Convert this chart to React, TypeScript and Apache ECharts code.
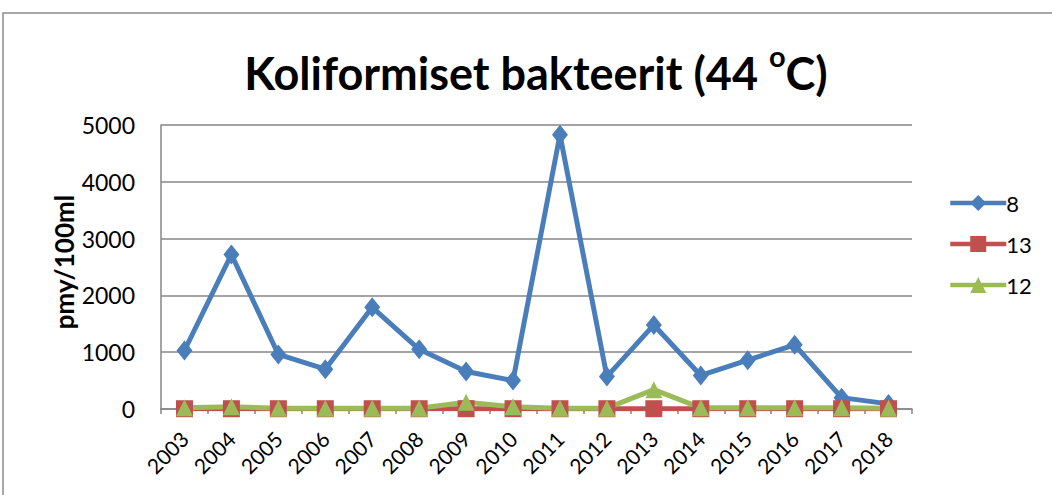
import React, { useEffect, useRef } from "react";
import * as echarts from "echarts";

const years = ["2003","2004","2005","2006","2007","2008","2009","2010","2011","2012","2013","2014","2015","2016","2017","2018"];
const series8 = [1030, 2720, 960, 700, 1790, 1050, 660, 500, 4830, 570, 1480, 590, 860, 1130, 200, 90];
const series13 = [5, 5, 5, 5, 5, 5, 5, 5, 5, 5, 5, 5, 5, 5, 5, 5];
const series12 = [20, 40, 15, 15, 15, 15, 120, 40, 15, 15, 340, 20, 20, 20, 20, 15];
const yTicks = [0, 1000, 2000, 3000, 4000, 5000];

const FONT = "Lato, 'Open Sans', sans-serif";

export default function App() {
  const ref = useRef<HTMLDivElement>(null);
  useEffect(() => {
    document.body.style.margin = "0";
    const chart = echarts.init(ref.current!, undefined, { renderer: "svg" });
    chart.setOption({
      animation: false,
      textStyle: { fontFamily: FONT },
      grid: { left: 161, right: 140, top: 125, bottom: 86 },
      graphic: [
        {
          type: "rect",
          shape: { x: 3, y: 13, width: 1200, height: 700 },
          style: { fill: "none", stroke: "#8a8a8a", lineWidth: 1.5 },
          silent: true,
        },
        {
          type: "text",
          x: 536,
          y: 68,
          style: {
            text: "{a|Koliformiset bakteerit (44 }{s|o}{a|C)}",
            align: "center",
            verticalAlign: "middle",
            rich: {
              a: { fontSize: 45, fontWeight: "bold", fontFamily: FONT, fill: "#000", lineHeight: 54, verticalAlign: "bottom" },
              s: { fontSize: 29, fontWeight: "bold", fontFamily: FONT, fill: "#000", lineHeight: 54, verticalAlign: "top" },
            },
          },
        },
        {
          type: "text",
          x: 64,
          y: 262,
          rotation: Math.PI / 2,
          style: {
            text: "pmy/100ml",
            align: "center",
            verticalAlign: "middle",
            fontSize: 26,
            fontWeight: "bold",
            fontFamily: FONT,
            fill: "#000",
          },
        },
      ],
      legend: {
        orient: "vertical",
        left: 943,
        top: 187,
        itemWidth: 56,
        itemHeight: 20,
        itemGap: 19,
        lineStyle: { width: 4.5 },
        textStyle: { fontSize: 22, color: "#000", fontFamily: FONT, padding: [0, 0, 0, -5] },
        data: ["8", "13", "12"],
      },
      xAxis: {
        type: "category",
        data: years,
        boundaryGap: true,
        axisLine: { lineStyle: { color: "#868686", width: 1.5 } },
        axisTick: { show: true, length: 5, alignWithLabel: false, lineStyle: { color: "#868686", width: 1.5 } },
        axisLabel: { rotate: 45, fontSize: 21, color: "#000", margin: 26, interval: 0, fontFamily: FONT },
      },
      yAxis: {
        type: "value",
        min: 0,
        max: 5000,
        interval: 1000,
        axisLine: { show: true, lineStyle: { color: "#868686", width: 1.5 } },
        axisTick: { show: false },
        splitLine: { lineStyle: { color: "#868686", width: 1.5 } },
        axisLabel: {
          fontSize: 23,
          color: "#000",
          margin: 26,
          fontFamily: FONT,
          formatter: (v: number) => (yTicks.includes(v) ? String(v) : ""),
        },
      },
      series: [
        {
          name: "8",
          type: "line",
          data: series8,
          symbol: "diamond",
          symbolSize: [16, 20],
          lineStyle: { color: "#4A7EBB", width: 5 },
          itemStyle: { color: "#4A7EBB" },
        },
        {
          name: "13",
          type: "line",
          data: series13,
          symbol: "rect",
          symbolSize: 17,
          lineStyle: { color: "#C0504D", width: 5 },
          itemStyle: { color: "#C0504D" },
        },
        {
          name: "12",
          type: "line",
          data: series12,
          symbol: "triangle",
          symbolSize: [17, 17],
          lineStyle: { color: "#9BBB59", width: 5 },
          itemStyle: { color: "#9BBB59" },
        },
      ],
    });
    return () => chart.dispose();
  }, []);
  return <div ref={ref} style={{ width: 1052, height: 495 }} />;
}
